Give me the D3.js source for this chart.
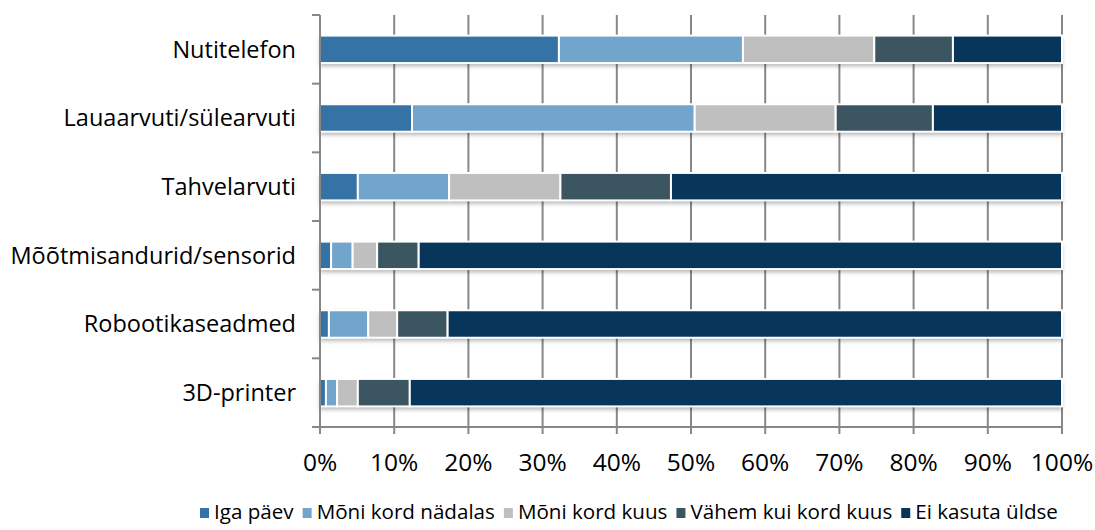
<!DOCTYPE html>
<html lang="et">
<head>
<meta charset="UTF-8">
<title>Seadmete kasutamine</title>
<script src="https://d3js.org/d3.v7.min.js"></script>
<style>
  body { margin: 0; background: #fff; }
  .label { font-family: "Open Sans", Lato, sans-serif; fill: #000; font-variant-ligatures: none; }
</style>
</head>
<body>
<div id="chart"></div>
<script>
// categories, top to bottom
const categories = ["Nutitelefon", "Lauaarvuti/sülearvuti", "Tahvelarvuti",
  "Mõõtmisandurid/sensorid", "Robootikaseadmed", "3D-printer"];
const seriesNames = ["Iga päev", "Mõni kord nädalas", "Mõni kord kuus",
  "Vähem kui kord kuus", "Ei kasuta üldse"];
const colors = ["#3573a6", "#71a5cb", "#bfbfbf", "#3b5561", "#08355a"];

// percent per category for each series
const igaPaev   = [32.2, 12.4, 5.1, 1.5, 1.2, 0.8];
const nadalas   = [24.8, 38.1, 12.3, 2.9, 5.3, 1.5];
const kuus      = [17.7, 19.0, 15.0, 3.3, 3.9, 2.8];
const vahem     = [10.6, 13.1, 14.9, 5.6, 6.8, 7.0];
const eiKasuta  = [14.7, 17.4, 52.7, 86.7, 82.8, 87.9];
const seriesValues = [igaPaev, nadalas, kuus, vahem, eiKasuta];

const xTicks = [0, 10, 20, 30, 40, 50, 60, 70, 80, 90, 100];

const W = 1095, H = 530;
const margin = {top: 15, right: 33, bottom: 103, left: 320};
const width = W - margin.left - margin.right;
const height = H - margin.top - margin.bottom;

const svg = d3.select("#chart").append("svg")
  .attr("width", W).attr("height", H);

const defs = svg.append("defs");
const f = defs.append("filter").attr("id", "shadow")
  .attr("x", "-5%").attr("y", "-30%").attr("width", "110%").attr("height", "180%");
f.append("feDropShadow").attr("dx", 0).attr("dy", 3)
  .attr("stdDeviation", 2).attr("flood-color", "#000").attr("flood-opacity", 0.3);

const g = svg.append("g").attr("transform", `translate(${margin.left},${margin.top})`);

const x = d3.scaleLinear().domain([0, 100]).range([0, width]);
const y = d3.scaleBand().domain(categories).range([0, height])
  .paddingInner(0.6).paddingOuter(0.3);

// vertical grid
g.append("g").selectAll("line").data(xTicks.slice(1)).join("line")
  .attr("x1", d => x(d)).attr("x2", d => x(d))
  .attr("y1", 0).attr("y2", height)
  .attr("stroke", "#878787").attr("stroke-width", 2);

// stacked data
const rows = categories.map((c, i) => {
  const r = {cat: c};
  seriesNames.forEach((s, j) => r[s] = seriesValues[j][i]);
  return r;
});
const stacked = d3.stack().keys(seriesNames)(rows);

// bars
const barsG = g.append("g");
// shadow layer
barsG.append("g").attr("filter", "url(#shadow)")
  .selectAll("rect").data(rows).join("rect")
  .attr("x", 0).attr("width", x(100))
  .attr("y", d => y(d.cat)).attr("height", y.bandwidth())
  .attr("fill", "#fff");

barsG.selectAll("g.series").data(stacked).join("g")
  .attr("class", "series")
  .attr("fill", (d, i) => colors[i])
  .selectAll("rect").data(d => d).join("rect")
  .attr("x", d => x(d[0]))
  .attr("width", d => x(d[1]) - x(d[0]))
  .attr("y", d => y(d.data.cat))
  .attr("height", y.bandwidth())
  .attr("stroke", "#fff").attr("stroke-width", 2);

// y axis (category boundary ticks)
const bounds = d3.range(categories.length + 1).map(i => i * height / categories.length);
g.append("line").attr("x1", 0).attr("x2", 0).attr("y1", 0).attr("y2", height + 7)
  .attr("stroke", "#878787").attr("stroke-width", 2);
g.append("g").selectAll("line").data(bounds).join("line")
  .attr("x1", -8).attr("x2", 0).attr("y1", d => d).attr("y2", d => d)
  .attr("stroke", "#878787").attr("stroke-width", 2);

// x axis
g.append("line").attr("x1", -8).attr("x2", width).attr("y1", height).attr("y2", height)
  .attr("stroke", "#878787").attr("stroke-width", 2);
g.append("g").selectAll("line").data(xTicks).join("line")
  .attr("x1", d => x(d)).attr("x2", d => x(d)).attr("y1", height).attr("y2", height + 7)
  .attr("stroke", "#878787").attr("stroke-width", 2);
g.append("g").selectAll("text").data(xTicks).join("text")
  .attr("class", "label")
  .attr("x", d => x(d)).attr("y", height + 44)
  .attr("text-anchor", "middle")
  .style("font-size", "24.5px")
  .text(d => d + "%");

// category labels
g.append("g").selectAll("text").data(categories).join("text")
  .attr("class", "label")
  .attr("x", -24).attr("y", d => y(d) + y.bandwidth() / 2)
  .attr("dy", "0.35em")
  .attr("text-anchor", "end")
  .style("font-size", "23.5px")
  .text(d => d);

// legend
const legend = svg.append("g").attr("transform", `translate(0, 519)`);
let lx = 200;
seriesNames.forEach((s, i) => {
  const item = legend.append("g").attr("transform", `translate(${lx},0)`);
  item.append("rect").attr("x", 0).attr("y", -11).attr("width", 9).attr("height", 10)
    .attr("fill", colors[i]);
  const t = item.append("text").attr("class", "label")
    .attr("x", 14).attr("y", 0)
    .style("font-size", "20.6px").text(s);
  lx += 14 + t.node().getComputedTextLength() + 9;
});
</script>
</body>
</html>
